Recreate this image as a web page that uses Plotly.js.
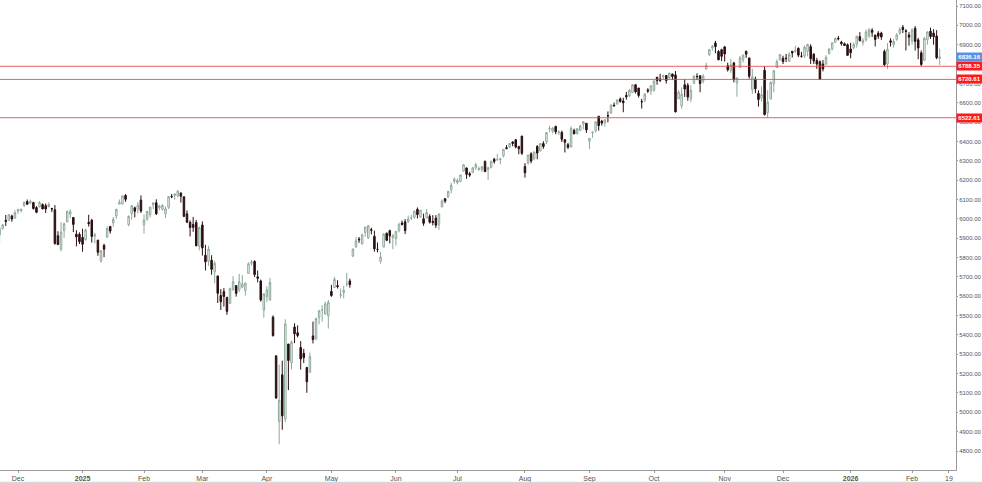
<!DOCTYPE html>
<html>
<head>
<meta charset="utf-8">
<script src="https://cdn.plot.ly/plotly-3.0.1.min.js"></script>
<style>
html,body{margin:0;padding:0;background:#fff;}
#chart{width:982px;height:483px;}
</style>
</head>
<body>
<div id="chart"></div>
<script>
// Trading days per month (day numbers)
const monthDays = [
  ['2024-11',[21,22,25,26,27,29]],
  ['2024-12',[2,3,4,5,6,9,10,11,12,13,16,17,18,19,20,23,24,26,27,30,31]],
  ['2025-01',[2,3,6,7,8,10,13,14,15,16,17,21,22,23,24,27,28,29,30,31]],
  ['2025-02',[3,4,5,6,7,10,11,12,13,14,18,19,20,21,24,25,26,27,28]],
  ['2025-03',[3,4,5,6,7,10,11,12,13,14,17,18,19,20,21,24,25,26,27,28,31]],
  ['2025-04',[1,2,3,4,7,8,9,10,11,14,15,16,17,21,22,23,24,25,28,29,30]],
  ['2025-05',[1,2,5,6,7,8,9,12,13,14,15,16,19,20,21,22,23,27,28,29,30]],
  ['2025-06',[2,3,4,5,6,9,10,11,12,13,16,17,18,20,23,24,25,26,27,30]],
  ['2025-07',[1,2,3,7,8,9,10,11,14,15,16,17,18,21,22,23,24,25,28,29,30,31]],
  ['2025-08',[1,4,5,6,7,8,11,12,13,14,15,18,19,20,21,22,25,26,27,28,29]],
  ['2025-09',[2,3,4,5,8,9,10,11,12,15,16,17,18,19,22,23,24,25,26,29,30]],
  ['2025-10',[1,2,3,6,7,8,9,10,13,14,15,16,17,20,21,22,23,24,27,28,29,30,31]],
  ['2025-11',[3,4,5,6,7,10,11,12,13,14,17,18,19,20,21,24,25,26,28]],
  ['2025-12',[1,2,3,4,5,8,9,10,11,12,15,16,17,18,19,22,23,24,26,29,30,31]],
  ['2026-01',[2,5,6,7,8,9,12,13,14,15,16,20,21,22,23,26,27,28,29,30]],
  ['2026-02',[2,3,4,5,6,9,10,11,12,13]]
];
const futureDates = ['2026-02-17','2026-02-18','2026-02-19','2026-02-20','2026-02-23'];

const open = [
  5917,5950,5992,5992,6015,6003,
  6040,6042,6069,6089,6081,6084,6058,6061,6074,6068,6063,6053,6047,5913,5843,5940,5984,6024,6007,5921,5920,
  5904,5892,5982,5993,5911,5890,5782,5863,5905,5961,5979,6014,6076,6077,6121,5970,6027,6057,6050,6097,
  5969,5998,6021,6072,6083,6058,6049,6025,6060,6115,6121,6118,6134,6114,6026,5982,5971,5981,5857,
  5968,5812,5781,5786,5726,5705,5604,5624,5594,5563,5635,5655,5633,5647,5630,5718,5771,5780,5700,5679,5528,
  5598,5580,5492,5292,4953,5194,4966,5353,5256,5441,5411,5335,5305,5232,5207,5395,5381,5490,5529,5508,5499,
  5625,5645,5655,5605,5619,5663,5679,5808,5854,5895,5870,5929,5902,5944,5910,5842,5781,5854,5925,5939,5903,
  5897,5939,5979,5985,5987,6005,6009,6049,6009,6000,6004,6013,5987,6004,5970,6062,6104,6113,6151,6194,
  6187,6193,6247,6263,6233,6240,6264,6255,6255,6296,6255,6264,6308,6304,6306,6326,6368,6370,6397,6409,6373,6428,
  6271,6288,6336,6310,6374,6351,6389,6398,6466,6453,6478,6446,6447,6409,6383,6371,6457,6441,6457,6489,6494,
  6401,6445,6456,6530,6505,6495,6534,6546,6587,6594,6620,6609,6638,6636,6653,6693,6676,6606,6613,6666,6661,
  6665,6732,6722,6734,6741,6729,6748,6744,6620,6584,6693,6690,6620,6700,6736,6739,6713,6774,6849,6884,6909,6865,6874,
  6889,6791,6768,6806,6702,6781,6822,6866,6831,6669,6722,6648,6623,6768,6549,6620,6698,6782,6822,
  6830,6830,6815,6866,6866,6882,6840,6842,6866,6890,6851,6818,6812,6800,6800,6854,6880,6912,6933,6913,6905,6900,
  6878,6884,6903,6942,6912,6925,6945,6975,6950,6960,6960,6865,6800,6920,6900,6928,6960,6990,6972,6950,
  6920,6985,6925,6858,6820,6925,6970,6960,6945,6830
];
const high = [
  5964,5973,6020,6025,6021,6044,
  6053,6052,6087,6100,6099,6088,6066,6092,6080,6079,6085,6057,6071,5936,5982,5979,6041,6050,6007,5941,5930,
  5949,5949,6021,6000,5928,5891,5838,5871,5961,5962,6009,6052,6100,6119,6128,6018,6070,6063,6087,6121,
  6022,6042,6062,6084,6101,6073,6076,6064,6116,6128,6129,6147,6135,6115,6044,5992,6010,5994,5959,
  5987,5866,5861,5812,5783,5705,5637,5642,5597,5645,5704,5656,5716,5709,5670,5775,5787,5786,5733,5686,5615,
  5651,5695,5501,5293,5247,5267,5481,5353,5371,5460,5450,5368,5328,5233,5309,5469,5489,5528,5553,5572,5581,
  5659,5700,5683,5640,5654,5721,5691,5846,5906,5906,5924,5958,5969,5954,5939,5878,5829,5925,5930,5944,5922,
  5937,5981,5991,5999,6017,6021,6043,6059,6046,6027,6051,6024,6019,6019,6028,6101,6108,6146,6187,6215,
  6210,6227,6284,6265,6243,6269,6290,6271,6273,6302,6270,6301,6315,6336,6316,6360,6381,6390,6401,6410,6378,6428,
  6288,6330,6344,6349,6381,6390,6401,6447,6481,6474,6481,6458,6456,6410,6393,6479,6466,6468,6484,6503,6495,
  6417,6451,6502,6532,6512,6513,6555,6592,6601,6616,6627,6626,6656,6671,6694,6696,6677,6620,6650,6675,6689,
  6718,6733,6750,6745,6741,6754,6751,6764,6665,6678,6722,6702,6690,6744,6752,6743,6748,6807,6876,6899,6920,6872,6879,
  6890,6807,6827,6811,6729,6841,6849,6869,6834,6775,6735,6664,6684,6788,6665,6711,6767,6824,6850,
  6843,6852,6862,6867,6895,6885,6863,6895,6905,6902,6856,6832,6819,6821,6846,6880,6910,6937,6945,6920,6911,6906,
  6910,6912,6945,6965,6935,6978,6986,6985,6951,6970,6967,6875,6908,6933,6930,6960,6990,7002,6980,6965,
  6985,6996,6935,6870,6940,6970,6988,6980,6975,6880
];
const low = [
  5876,5944,5963,5989,5985,6003,
  6026,6034,6061,6075,6079,6048,6029,6060,6051,6030,6059,6035,5867,5866,5832,5902,5983,6004,5932,5858,5870,
  5830,5888,5960,5877,5874,5809,5773,5802,5904,5924,5960,6000,6076,6075,6088,5962,5995,6007,6028,6030,
  5923,5990,6007,6050,6020,6045,6043,6004,6051,6107,6099,6111,6084,6009,5978,5909,5933,5858,5837,
  5810,5733,5757,5711,5667,5565,5529,5547,5504,5563,5628,5598,5622,5641,5603,5716,5758,5699,5672,5572,5489,
  5571,5579,5391,5070,4835,4910,4949,5115,5222,5358,5387,5221,5255,5101,5207,5356,5372,5455,5468,5505,5433,
  5597,5645,5640,5590,5589,5650,5644,5802,5853,5876,5868,5908,5896,5920,5830,5827,5768,5854,5885,5873,5843,
  5862,5930,5966,5921,5978,5994,6000,6002,6004,5964,6004,5976,5966,5952,5943,6059,6081,6108,6132,6181,
  6178,6189,6244,6207,6217,6236,6253,6248,6242,6242,6201,6264,6285,6303,6282,6317,6360,6366,6375,6365,6334,6330,
  6213,6280,6287,6305,6308,6348,6362,6386,6447,6441,6437,6433,6397,6343,6361,6371,6438,6435,6454,6462,6444,
  6361,6419,6446,6456,6482,6478,6499,6545,6580,6590,6601,6551,6616,6630,6650,6648,6627,6570,6603,6650,6640,
  6656,6693,6707,6723,6699,6722,6717,6550,6620,6570,6630,6610,6603,6700,6717,6654,6700,6774,6842,6870,6856,6820,6815,
  6813,6761,6754,6705,6631,6781,6808,6832,6724,6646,6650,6580,6606,6534,6521,6617,6654,6780,6818,
  6800,6810,6810,6834,6858,6836,6833,6830,6840,6800,6800,6775,6721,6762,6796,6850,6870,6910,6922,6895,6893,6844,
  6830,6877,6885,6917,6895,6916,6935,6940,6891,6930,6925,6789,6775,6891,6885,6920,6950,6960,6870,6895,
  6900,6870,6825,6790,6815,6900,6930,6900,6825,6795
];
const close = [
  5949,5969,5987,6021,5999,6032,
  6047,6050,6087,6075,6090,6053,6034,6084,6051,6051,6074,6051,5872,5867,5931,5975,6040,6037,5971,5907,5882,
  5869,5942,5975,5909,5918,5827,5836,5843,5950,5937,5997,6049,6086,6119,6101,6012,6068,6039,6071,6041,
  5994,6038,6061,6083,6026,6066,6069,6052,6115,6114,6129,6144,6117,6013,5983,5955,5956,5861,5955,
  5850,5778,5843,5739,5770,5615,5572,5599,5522,5639,5675,5615,5675,5663,5668,5768,5777,5712,5693,5581,5612,
  5633,5671,5397,5074,5062,4982,5457,5268,5363,5406,5397,5276,5283,5158,5288,5376,5485,5525,5529,5561,5569,
  5604,5687,5650,5607,5631,5664,5660,5844,5886,5892,5917,5958,5964,5941,5845,5842,5803,5922,5889,5912,5912,
  5936,5970,5971,5939,6000,6006,6039,6022,6045,5977,6033,5983,5981,5967,6025,6092,6092,6141,6173,6205,
  6198,6227,6279,6230,6226,6263,6280,6260,6269,6244,6264,6297,6297,6306,6309,6359,6363,6389,6390,6371,6362,6339,
  6238,6330,6299,6345,6340,6389,6374,6446,6466,6469,6450,6449,6411,6396,6370,6467,6439,6466,6481,6502,6460,
  6416,6448,6502,6482,6495,6512,6532,6587,6584,6615,6606,6600,6631,6664,6693,6657,6638,6605,6644,6661,6688,
  6711,6715,6716,6740,6715,6753,6735,6553,6655,6644,6671,6630,6664,6736,6735,6699,6738,6792,6875,6891,6890,6822,6840,
  6852,6771,6796,6720,6729,6832,6846,6851,6737,6734,6672,6617,6642,6539,6603,6705,6766,6813,6849,
  6813,6829,6850,6857,6870,6846,6840,6887,6901,6827,6816,6800,6721,6775,6835,6878,6910,6932,6930,6906,6896,6845,
  6858,6902,6944,6921,6921,6966,6977,6964,6927,6944,6940,6797,6876,6913,6916,6950,6979,6978,6969,6939,
  6976,6917,6883,6798,6932,6965,6942,6941,6833,6836.16
];

// Horizontal levels and current price
const levels = [6788.35, 6720.61, 6522.61];
const lastPrice = 6836.16;

// X-axis tick dates and labels
const tickDates = ['2024-12-02','2025-01-02','2025-02-03','2025-03-03','2025-04-01','2025-05-01','2025-06-02',
  '2025-07-01','2025-08-01','2025-09-02','2025-10-01','2025-11-03','2025-12-01','2026-01-02','2026-02-02','2026-02-19'];
const tickLabels = ['Dec','<b>2025</b>','Feb','Mar','Apr','May','Jun','Jul','Aug','Sep','Oct','Nov','Dec','<b>2026</b>','Feb','19'];

const yTicks = [4800,4900,5000,5100,5200,5300,5400,5500,5600,5700,5800,5900,6000,6100,6200,6300,6400,6500,6600,6700,6800,6900,7000,7100];

const dates = [];
monthDays.forEach(([ym, days]) => days.forEach(d => dates.push(ym + '-' + String(d).padStart(2,'0'))));
const allCats = dates.concat(futureDates);

const FONT = 'Liberation Sans, Arial, sans-serif';

const trace = {
  type: 'candlestick',
  x: dates, open: open, high: high, low: low, close: close,
  increasing: {line: {color: '#8da898', width: 1}, fillcolor: '#ffffff'},
  decreasing: {line: {color: '#2a1010', width: 1}, fillcolor: '#2a1010'},
  whiskerwidth: 0,
  hoverinfo: 'none',
  showlegend: false
};

const shapes = levels.map(v => ({
  type: 'line', xref: 'paper', x0: 0, x1: 1, yref: 'y', y0: v, y1: v,
  line: {color: 'rgba(230,70,70,0.85)', width: 1}
}));
// bottom border line
shapes.push({type:'line', xref:'paper', yref:'paper', x0:0, x1:1.03, y0:-0.027, y1:-0.027, line:{color:'#d8d8d8', width:2}});

function priceLabel(v, color) {
  return {
    xref: 'paper', x: 1, xanchor: 'left', xshift: 0, yref: 'y', y: v, yanchor: 'middle',
    text: '<b>' + v.toFixed(2) + '</b>', showarrow: false,
    bgcolor: color, font: {color: '#ffffff', size: 6, family: FONT},
    borderpad: 1, width: 23, align: 'center'
  };
}
const annotations = levels.map(v => priceLabel(v, '#ff1a1a'));
annotations.push(priceLabel(lastPrice, '#5b8ee6'));

const layout = {
  width: 982, height: 483,
  margin: {l: 0, r: 26, t: 0, b: 13},
  paper_bgcolor: '#ffffff', plot_bgcolor: '#ffffff',
  showlegend: false,
  xaxis: {
    type: 'category', categoryorder: 'array', categoryarray: allCats,
    range: [0.13, 311.3],
    rangeslider: {visible: false},
    tickmode: 'array', tickvals: tickDates, ticktext: tickLabels,
    showgrid: false, zeroline: false,
    showline: true, linecolor: '#9a9a9a', linewidth: 1,
    ticks: 'outside', ticklen: 2, tickcolor: '#9a9a9a',
    tickfont: {size: 7, color: '#555555', family: FONT},
    fixedrange: true
  },
  yaxis: {
    side: 'right', range: [4702, 7131],
    tickmode: 'array', tickvals: yTicks, ticktext: yTicks.map(v => v.toFixed(2)),
    showgrid: false, zeroline: false,
    showline: true, linecolor: '#9a9a9a', linewidth: 1,
    ticks: 'outside', ticklen: 1, tickcolor: '#9a9a9a',
    ticklabelstandoff: 0,
    tickfont: {size: 6, color: '#555555', family: FONT},
    fixedrange: true
  },
  shapes: shapes,
  annotations: annotations
};

Plotly.newPlot('chart', [trace], layout, {staticPlot: true, displayModeBar: false});
</script>
</body>
</html>
